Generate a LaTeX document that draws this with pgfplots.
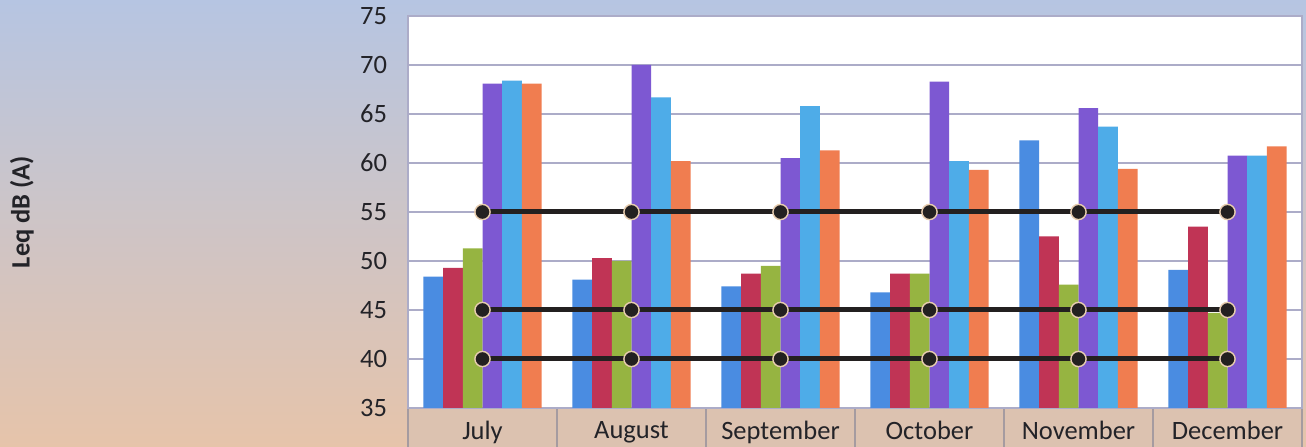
\documentclass[border=0pt]{standalone}
\usepackage{fontspec}
\setmainfont{Carlito}
\usepackage{pgfplots}
\pgfplotsset{compat=1.18}
\definecolor{bgtop}{RGB}{182,197,226}
\definecolor{bgmid}{RGB}{206,198,214}
\definecolor{bgbot}{RGB}{230,196,170}
\definecolor{cattan}{RGB}{220,194,176}
\definecolor{sepgray}{RGB}{165,155,160}
\definecolor{gridc}{RGB}{172,172,200}
\definecolor{labc}{RGB}{35,35,40}
\definecolor{cblue}{RGB}{74,140,225}
\definecolor{cred}{RGB}{192,52,85}
\definecolor{cgreen}{RGB}{150,180,65}
\definecolor{cpurple}{RGB}{125,88,210}
\definecolor{ccyan}{RGB}{78,172,232}
\definecolor{corange}{RGB}{240,125,80}
\definecolor{linec}{RGB}{35,32,32}
\definecolor{markedge}{RGB}{232,205,175}
\begin{document}
\begin{tikzpicture}
\shade[top color=bgtop, middle color=bgmid, bottom color=bgbot] (0,0) rectangle (653bp,223.5bp);
\fill[cattan] (204bp,0) rectangle (651bp,19.5bp);
\foreach \k in {0,...,6} {
  \draw[sepgray, line width=0.6bp] ({204bp+\k*74.5bp},0) -- ({204bp+\k*74.5bp},19.5bp);
}
\begin{axis}[
  at={(204bp,19.5bp)}, anchor=south west,
  scale only axis, width=447bp, height=196bp,
  xmin=-0.5, xmax=5.5, ymin=35, ymax=75,
  ytick={35,40,...,75},
  xtick={0,...,5},
  xticklabels={July,August,September,October,November,December},
  major tick length=0pt,
  ymajorgrids, grid style={gridc, line width=0.7bp},
  axis line style={gridc, line width=0.6bp},
  axis background/.style={fill=white},
  tick label style={font=\fontsize{13.3}{15}\selectfont, text=labc},
  /pgf/number format/assume math mode=true,
  yticklabel style={xshift=-7bp},
  xticklabel style={yshift=-3bp},
  ylabel={Leq dB (A)},
  every axis y label/.style={at={(axis description cs:-0.432,0.5)}, rotate=90, anchor=center, font=\bfseries\fontsize{13.3}{15}\selectfont, text=labc},
]
\addplot[ybar, bar width=9.85bp, bar shift=-24.625bp, fill=cblue, draw=none] coordinates {(0,48.4) (1,48.1) (2,47.4) (3,46.8) (4,62.3) (5,49.1)};
\addplot[ybar, bar width=9.85bp, bar shift=-14.775bp, fill=cred, draw=none] coordinates {(0,49.3) (1,50.3) (2,48.7) (3,48.7) (4,52.5) (5,53.5)};
\addplot[ybar, bar width=9.85bp, bar shift=-4.925bp, fill=cgreen, draw=none] coordinates {(0,51.3) (1,50.0) (2,49.5) (3,48.7) (4,47.6) (5,44.7)};
\addplot[ybar, bar width=9.85bp, bar shift=4.925bp, fill=cpurple, draw=none] coordinates {(0,68.1) (1,70.0) (2,60.5) (3,68.3) (4,65.6) (5,60.75)};
\addplot[ybar, bar width=9.85bp, bar shift=14.775bp, fill=ccyan, draw=none] coordinates {(0,68.4) (1,66.7) (2,65.8) (3,60.2) (4,63.7) (5,60.75)};
\addplot[ybar, bar width=9.85bp, bar shift=24.625bp, fill=corange, draw=none] coordinates {(0,68.1) (1,60.2) (2,61.3) (3,59.3) (4,59.4) (5,61.7)};
\addplot[line width=2.5bp, color=linec, mark=*, mark size=3.8bp, mark options={fill=linec, draw=markedge, line width=0.7bp}] coordinates {(0,55) (1,55) (2,55) (3,55) (4,55) (5,55)};
\addplot[line width=2.5bp, color=linec, mark=*, mark size=3.8bp, mark options={fill=linec, draw=markedge, line width=0.7bp}] coordinates {(0,45) (1,45) (2,45) (3,45) (4,45) (5,45)};
\addplot[line width=2.5bp, color=linec, mark=*, mark size=3.8bp, mark options={fill=linec, draw=markedge, line width=0.7bp}] coordinates {(0,40) (1,40) (2,40) (3,40) (4,40) (5,40)};
\end{axis}
\pgfresetboundingbox
\path[use as bounding box] (0,0) rectangle (653bp,223.5bp);
\end{tikzpicture}
\end{document}
